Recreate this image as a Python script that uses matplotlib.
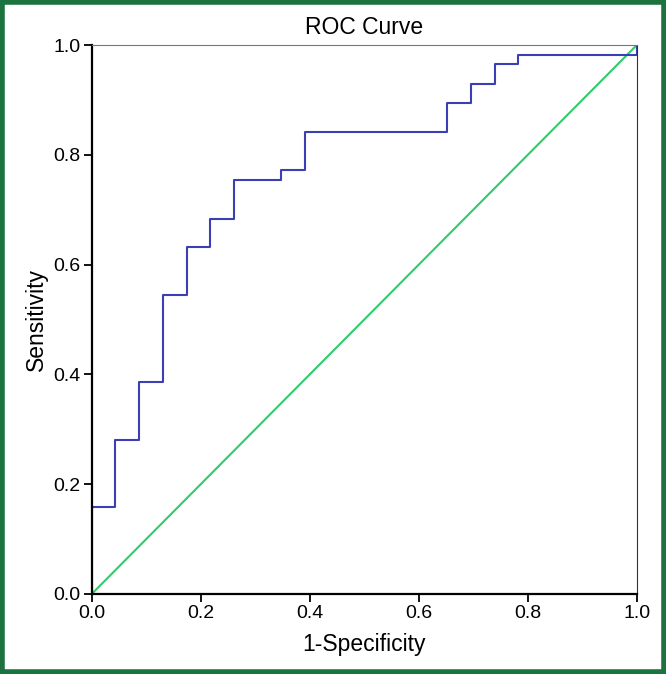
import matplotlib
matplotlib.use("Agg")
import matplotlib.pyplot as plt
from matplotlib.patches import Rectangle

# ROC steps (1-specificity, sensitivity)
fpr = [0.0, 0.0, 0.043, 0.043, 0.087, 0.087, 0.130, 0.130, 0.174, 0.174,
       0.217, 0.217, 0.261, 0.261, 0.348, 0.348, 0.391, 0.391, 0.652, 0.652,
       0.696, 0.696, 0.739, 0.739, 0.783, 0.783, 1.0, 1.0]
tpr = [0.0, 0.158, 0.158, 0.281, 0.281, 0.386, 0.386, 0.544, 0.544, 0.632,
       0.632, 0.684, 0.684, 0.754, 0.754, 0.772, 0.772, 0.842, 0.842, 0.895,
       0.895, 0.930, 0.930, 0.965, 0.965, 0.982, 0.982, 1.0]
ref_line = [0.0, 1.0]
ticks = [0.0, 0.2, 0.4, 0.6, 0.8, 1.0]
tick_labels = ["0.0", "0.2", "0.4", "0.6", "0.8", "1.0"]

plt.rcParams['font.family'] = ['Liberation Sans', 'DejaVu Sans']

fig = plt.figure(figsize=(6.66, 6.74), dpi=100)
ax = fig.add_axes([0.138, 0.119, 0.818, 0.814])

ax.plot(ref_line, ref_line, color="#2ecc6a", lw=1.5)
ax.plot(fpr, tpr, color="#3c3fb4", lw=1.5)

ax.set_xlim(0, 1)
ax.set_ylim(0, 1)
ax.set_xticks(ticks)
ax.set_xticklabels(tick_labels)
ax.set_yticks(ticks)
ax.set_yticklabels(tick_labels)
ax.tick_params(direction="out", length=6, width=1.3, labelsize=14, pad=2)

ax.spines['left'].set_linewidth(1.6)
ax.spines['bottom'].set_linewidth(1.6)
ax.spines['top'].set_color("#777777")
ax.spines['right'].set_color("#333333")

ax.set_title("ROC Curve", fontsize=16.5, pad=8)
ax.set_xlabel("1-Specificity", fontsize=16.5, labelpad=8)
ax.set_ylabel("Sensitivity", fontsize=16.5, labelpad=4)

# green frame round the whole figure
fig.patches.append(Rectangle((0.003, 0.003), 0.994, 0.994, transform=fig.transFigure,
                             fill=False, edgecolor="#1d7340", lw=4))

fig.savefig("out.png", dpi=100)
